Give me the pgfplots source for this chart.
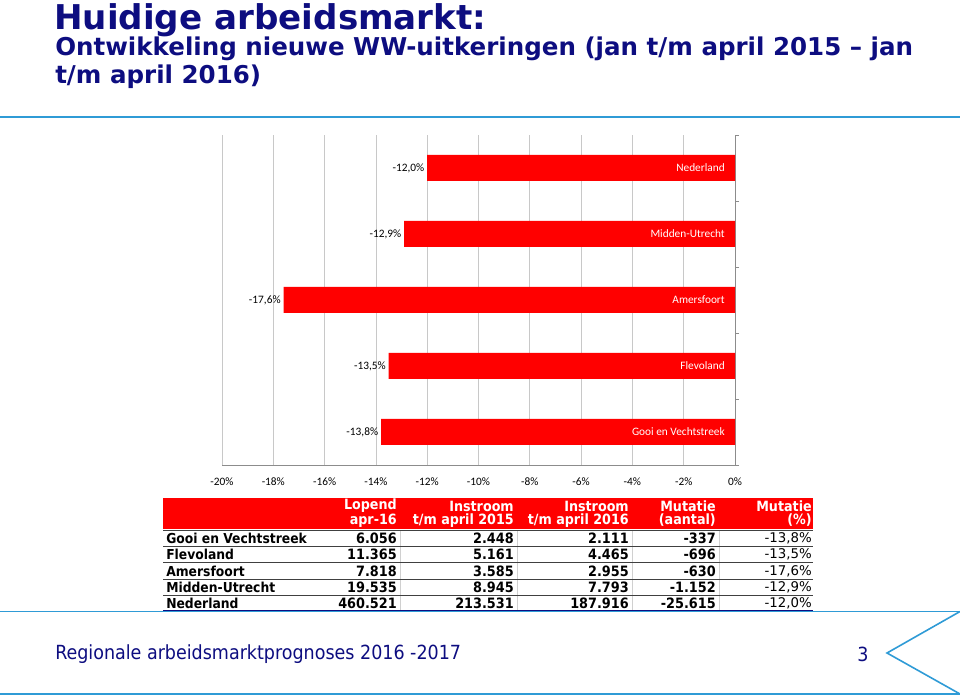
\documentclass[border=0pt]{standalone}
\usepackage{pgfplots}
\pgfplotsset{compat=1.18}
\usepackage{fontspec}
\setmainfont{DejaVu Sans}
\newfontfamily\cond{DejaVu Sans Condensed}
\newfontfamily\calibri{Carlito}
\definecolor{navy}{HTML}{0D0D80}
\definecolor{lblue}{HTML}{2F9BD6}
\definecolor{xred}{HTML}{FF0000}
\definecolor{gridc}{HTML}{C8C8C8}
\definecolor{axgray}{HTML}{8C8C8C}
\definecolor{sepc}{HTML}{D0D0D0}
\definecolor{rowc}{HTML}{404040}
\begin{document}
\begin{tikzpicture}[x=0.75pt,y=0.75pt]
\path[use as bounding box] (0,0) rectangle (960,695);
% titles
\node[anchor=base west, inner sep=0, text=navy, font=\bfseries\fontsize{25.6}{30}\selectfont] at (54,665) {Huidige arbeidsmarkt:};
\node[anchor=base west, inner sep=0, text=navy, font=\bfseries\fontsize{18.4}{22}\selectfont] at (55,639) {Ontwikkeling nieuwe WW-uitkeringen (jan t/m april 2015 – jan};
\node[anchor=base west, inner sep=0, text=navy, font=\bfseries\fontsize{18.4}{22}\selectfont] at (55,611) {t/m april 2016)};
\draw[lblue, line width=1.5pt] (0,578) -- (960,578);
\coordinate (axpos) at (222,230);
% chart
\begin{axis}[at={(axpos)}, anchor=south west, scale only axis,
  width=384.75pt, height=247.5pt,
  xmin=-20, xmax=0, ymin=-0.5, ymax=4.5,
  axis x line*=bottom, axis y line*=right,
  axis line style={axgray, line width=0.6pt},
  xtick={-20,-18,-16,-14,-12,-10,-8,-6,-4,-2,0},
  xticklabels={-20\%,-18\%,-16\%,-14\%,-12\%,-10\%,-8\%,-6\%,-4\%,-2\%,0\%},
  xmajorgrids, grid style={gridc, line width=0.6pt},
  xtick style={draw=none},
  ytick={-0.5,0.5,1.5,2.5,3.5,4.5}, yticklabels={},
  ytick style={axgray, line width=0.6pt}, tick align=outside, major tick length=3pt,
  xticklabel style={font=\calibri\fontsize{8.5}{10}\selectfont, text=black, yshift=-3pt},
  /pgf/number format/assume math mode=true,
  clip=false]
\addplot[xbar, bar width=19.5pt, fill=xred, draw=none,
  nodes near coords, point meta=explicit symbolic,
  every node near coord/.append style={anchor=east, text=black, inner sep=2pt, font=\calibri\fontsize{8.5}{10}\selectfont}]
  coordinates {(-13.8,0) [-13,8\%] (-13.5,1) [-13,5\%] (-17.6,2) [-17,6\%] (-12.9,3) [-12,9\%] (-12.0,4) [-12,0\%]};
\foreach \n/\y in {Gooi en Vechtstreek/0, Flevoland/1, Amersfoort/2, Midden-Utrecht/3, Nederland/4}{
  \edef\tmp{\noexpand\node[anchor=east, text=white, inner sep=0, xshift=-7.5pt, font=\noexpand\calibri\noexpand\fontsize{8.5}{10}\noexpand\selectfont] at (axis cs:0,\y) {\n};}
  \tmp
}
\end{axis}
% table
\fill[xred] (163,166) rectangle (813,197);
\foreach \xx in {400,517,632,719}{\draw[sepc, line width=0.5pt] (\xx,84) -- (\xx,165);}
\foreach \yy in {165,149,132.5,116,100}{\draw[rowc, line width=0.7pt] (163,\yy) -- (813,\yy);}
\begin{scope}[every node/.style={inner sep=0, font=\cond\bfseries\fontsize{10.6}{12}\selectfont}]
\foreach \x/\a/\b in {397/Lopend/apr-16, 514/Instroom/t\slash m april 2015, 629/Instroom/t\slash m april 2016, 716/Mutatie/(aantal), 812/Mutatie/(\%)}{
  \node[anchor=east, text=white] at (\x,189) {\a};
  \node[anchor=east, text=white] at (\x,174.5) {\b};
}
\end{scope}
\begin{scope}[every node/.style={inner sep=0, font=\cond\bfseries\fontsize{10.7}{12}\selectfont}]
\foreach \y/\n/\a/\b/\c/\d in {157/Gooi en Vechtstreek/6.056/2.448/2.111/-337, 140.5/Flevoland/11.365/5.161/4.465/-696, 124/Amersfoort/7.818/3.585/2.955/-630, 107.5/Midden-Utrecht/19.535/8.945/7.793/-1.152, 91.5/Nederland/460.521/213.531/187.916/-25.615}{
  \node[anchor=west, font=\cond\bfseries\fontsize{10.3}{11}\selectfont] at (166,\y) {\n};
  \node[anchor=east] at (397,\y) {\a};
  \node[anchor=east] at (514,\y) {\b};
  \node[anchor=east] at (629,\y) {\c};
  \node[anchor=east] at (716,\y) {\d};
}
\end{scope}
\begin{scope}[every node/.style={inner sep=0, font=\fontsize{10}{11}\selectfont}]
\foreach \y/\p in {157/-13{,}8\%, 140.5/-13{,}5\%, 124/-17{,}6\%, 107.5/-12{,}9\%, 91.5/-12{,}0\%}{
  \node[anchor=east] at (812,\y) {\p};
}
\end{scope}
\draw[navy, line width=0.8pt] (163,84.5) -- (813,84.5);
% footer
\draw[lblue, line width=1.2pt] (0,83.5) -- (960,83.5);
\draw[lblue, line width=1.2pt] (0,1) -- (960,1);
\draw[lblue, line width=1.2pt] (960,83.5) -- (887,42) -- (960,1);
\node[anchor=west, inner sep=0, text=navy, font=\cond\fontsize{14.6}{18}\selectfont] at (55,41) {Regionale arbeidsmarktprognoses 2016 -2017};
\node[inner sep=0, text=navy, font=\cond\fontsize{14.6}{18}\selectfont] at (863,41) {3};
\end{tikzpicture}
\end{document}
